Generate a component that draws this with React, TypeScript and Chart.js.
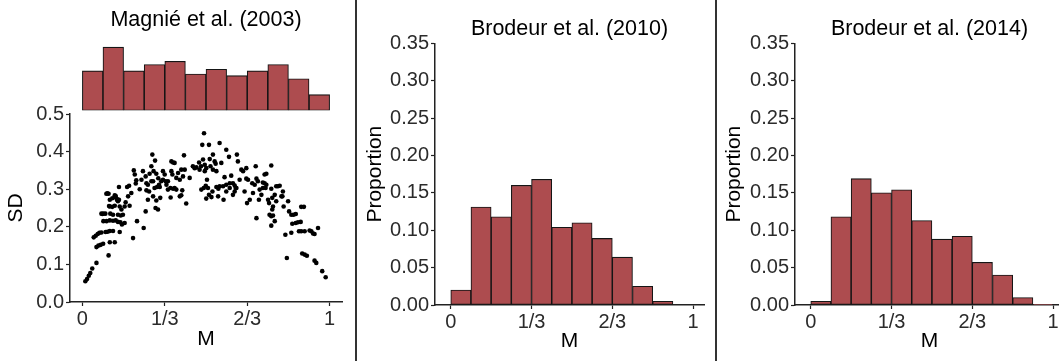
import React, { useEffect, useRef } from "react";
import { Chart, registerables } from "chart.js";

Chart.register(...registerables);

// ---------- DATA ----------
const xTickValues = [0, 1 / 3, 2 / 3, 1];
const xTickLabels = ["0", "1/3", "2/3", "1"];
const sdTickValues = [0, 0.1, 0.2, 0.3, 0.4, 0.5];
const propTickValues = [0, 0.05, 0.1, 0.15, 0.2, 0.25, 0.3, 0.35];

const binCenters = [0.0417, 0.125, 0.2083, 0.2917, 0.375, 0.4583, 0.5417, 0.625, 0.7083, 0.7917, 0.875, 0.9583];

const magnieCounts = [25, 40, 25, 29, 31, 23, 26, 22, 25, 29, 20, 10];
const brodeur2010 = [0.02, 0.131, 0.118, 0.16, 0.168, 0.104, 0.11, 0.089, 0.064, 0.025, 0.005, 0];
const brodeur2014 = [0.005, 0.118, 0.169, 0.15, 0.154, 0.113, 0.088, 0.092, 0.057, 0.04, 0.01, 0.001];

const magnieM = [
  0.012, 0.019, 0.026, 0.032, 0.04, 0.057, 0.106, 0.046, 0.054, 0.062, 0.069, 0.077, 0.094, 0.102, 0.111, 0.124, 0.151,
  0.057, 0.065, 0.074, 0.084, 0.111, 0.131, 0.077, 0.085, 0.093, 0.113, 0.124, 0.144, 0.155, 0.164, 0.111, 0.124, 0.135,
  0.144, 0.154, 0.171, 0.16, 0.097, 0.106, 0.131, 0.135, 0.14, 0.148, 0.111, 0.121, 0.111, 0.121, 0.131, 0.144, 0.151,
  0.158, 0.171, 0.175, 0.181, 0.189, 0.198, 0.205, 0.208, 0.212, 0.218, 0.216, 0.221, 0.248, 0.185, 0.191, 0.245, 0.256,
  0.259, 0.259, 0.27, 0.265, 0.256, 0.265, 0.272, 0.232, 0.239, 0.279, 0.283, 0.279, 0.288, 0.299, 0.307, 0.319, 0.286,
  0.292, 0.302, 0.313, 0.286, 0.299, 0.296, 0.306, 0.294, 0.326, 0.333, 0.337, 0.34, 0.315, 0.326, 0.31, 0.346, 0.36,
  0.367, 0.373, 0.36, 0.364, 0.356, 0.367, 0.373, 0.38, 0.387, 0.394, 0.4, 0.394, 0.4, 0.404, 0.357, 0.38, 0.346, 0.411,
  0.42, 0.434, 0.447, 0.454, 0.461, 0.472, 0.474, 0.48, 0.414, 0.407, 0.492, 0.485, 0.512, 0.488, 0.495, 0.501, 0.495,
  0.504, 0.499, 0.481, 0.491, 0.501, 0.512, 0.522, 0.528, 0.535, 0.539, 0.528, 0.542, 0.542, 0.55, 0.526, 0.549, 0.515,
  0.518, 0.508, 0.555, 0.562, 0.582, 0.593, 0.569, 0.582, 0.596, 0.575, 0.602, 0.609, 0.616, 0.623, 0.582, 0.609, 0.555,
  0.571, 0.596, 0.625, 0.629, 0.643, 0.616, 0.62, 0.65, 0.663, 0.663, 0.67, 0.677, 0.666, 0.636, 0.656, 0.701, 0.687,
  0.697, 0.704, 0.71, 0.714, 0.704, 0.73, 0.737, 0.744, 0.73, 0.741, 0.737, 0.744, 0.724, 0.69, 0.717, 0.764, 0.751,
  0.755, 0.764, 0.768, 0.771, 0.768, 0.757, 0.764, 0.771, 0.764, 0.778, 0.784, 0.778, 0.791, 0.798, 0.784, 0.805, 0.811,
  0.809, 0.814, 0.832, 0.836, 0.821, 0.827, 0.845, 0.863, 0.849, 0.863, 0.872, 0.845, 0.854, 0.885, 0.896, 0.885, 0.899,
  0.889, 0.899, 0.908, 0.919, 0.926, 0.933, 0.939, 0.939, 0.946, 0.953, 0.876, 0.97, 0.984, 0.148, 0.101, 0.135, 0.142,
  0.108, 0.081, 0.085, 0.098, 0.883,
];
const magnieSD = [
  0.055, 0.061, 0.07, 0.077, 0.089, 0.104, 0.124, 0.172, 0.176, 0.181, 0.184, 0.185, 0.186, 0.187, 0.189, 0.189, 0.186,
  0.146, 0.15, 0.152, 0.155, 0.159, 0.159, 0.235, 0.235, 0.235, 0.235, 0.232, 0.232, 0.23, 0.232, 0.217, 0.216, 0.217,
  0.213, 0.212, 0.21, 0.206, 0.288, 0.288, 0.284, 0.278, 0.272, 0.272, 0.272, 0.276, 0.254, 0.253, 0.256, 0.268, 0.254,
  0.246, 0.254, 0.265, 0.306, 0.309, 0.29, 0.17, 0.35, 0.339, 0.324, 0.315, 0.215, 0.197, 0.281, 0.256, 0.348, 0.334,
  0.316, 0.297, 0.294, 0.272, 0.241, 0.312, 0.341, 0.3, 0.325, 0.321, 0.392, 0.361, 0.348, 0.341, 0.329, 0.321, 0.321,
  0.303, 0.306, 0.306, 0.281, 0.27, 0.25, 0.246, 0.376, 0.348, 0.339, 0.321, 0.312, 0.277, 0.325, 0.312, 0.299, 0.374,
  0.371, 0.37, 0.348, 0.339, 0.303, 0.301, 0.303, 0.299, 0.343, 0.325, 0.352, 0.281, 0.284, 0.297, 0.278, 0.33, 0.321, 0.39,
  0.262, 0.33, 0.361, 0.356, 0.358, 0.371, 0.352, 0.361, 0.352, 0.334, 0.449, 0.418, 0.418, 0.379, 0.365, 0.356, 0.348,
  0.325, 0.309, 0.299, 0.303, 0.275, 0.285, 0.279, 0.392, 0.374, 0.368, 0.352, 0.348, 0.306, 0.301, 0.294, 0.281, 0.38,
  0.361, 0.303, 0.423, 0.37, 0.405, 0.386, 0.308, 0.312, 0.316, 0.332, 0.336, 0.316, 0.31, 0.303, 0.294, 0.285, 0.308,
  0.272, 0.303, 0.392, 0.374, 0.352, 0.294, 0.303, 0.348, 0.356, 0.328, 0.325, 0.272, 0.263, 0.325, 0.294, 0.361, 0.316,
  0.312, 0.328, 0.321, 0.272, 0.223, 0.318, 0.316, 0.312, 0.303, 0.303, 0.339, 0.341, 0.285, 0.29, 0.299, 0.363, 0.272,
  0.263, 0.301, 0.277, 0.254, 0.246, 0.232, 0.228, 0.23, 0.203, 0.285, 0.308, 0.215, 0.308, 0.309, 0.268, 0.281, 0.294,
  0.281, 0.254, 0.268, 0.241, 0.179, 0.117, 0.232, 0.234, 0.208, 0.21, 0.212, 0.184, 0.232, 0.253, 0.253, 0.188, 0.188,
  0.129, 0.126, 0.123, 0.19, 0.188, 0.182, 0.181, 0.11, 0.104, 0.197, 0.188, 0.082, 0.066, 0.306, 0.289, 0.282, 0.273,
  0.255, 0.234, 0.215, 0.215, 0.213,
];

// ---------- STYLE ----------
const FONT = "'Liberation Sans', Arial, Helvetica, sans-serif";
const BAR_FILL = "#AD4C4F";
const BAR_EDGE = "#151515";
const AXIS = "#222222";
const TICK_TEXT = "#2b2b2b";
const TICK_SIZE = 20;
const AXIS_TITLE_SIZE = 21;
const PANEL_TITLE_SIZE = 21.5;

function ChartCanvas({ left, top, width, height, build }: any) {
  const ref = useRef<HTMLCanvasElement | null>(null);
  useEffect(() => {
    if (!ref.current) return;
    const chart = new Chart(ref.current, build());
    return () => chart.destroy();
  }, []);
  return (
    <canvas
      ref={ref}
      width={width}
      height={height}
      style={{ position: "absolute", left, top, width, height }}
    />
  );
}

function xAxis(min: number, max: number, fitHeight: number, titlePadBottom: number) {
  return {
    type: "linear",
    min,
    max,
    offset: false,
    afterBuildTicks: (s: any) => {
      s.ticks = xTickValues.map((v) => ({ value: v }));
    },
    afterFit: (s: any) => {
      s.height = fitHeight;
    },
    ticks: {
      autoSkip: false,
      maxRotation: 0,
      padding: 1,
      color: TICK_TEXT,
      font: { family: FONT, size: TICK_SIZE },
      callback: (_v: any, i: number) => xTickLabels[i],
    },
    grid: {
      display: true,
      offset: false,
      drawOnChartArea: false,
      drawTicks: true,
      tickLength: 4,
      tickColor: AXIS,
      tickWidth: 1.2,
    },
    border: { display: true, color: AXIS, width: 1.5 },
    title: {
      display: true,
      text: "M",
      color: "#000",
      font: { family: FONT, size: AXIS_TITLE_SIZE },
      padding: { top: 0, bottom: titlePadBottom },
    },
  };
}

function yAxis(min: number, max: number, tickVals: number[], digits: number, fitWidth: number, title: string, titlePadTop: number) {
  return {
    type: "linear",
    min,
    max,
    afterBuildTicks: (s: any) => {
      s.ticks = tickVals.map((v) => ({ value: v }));
    },
    afterFit: (s: any) => {
      s.width = fitWidth;
    },
    ticks: {
      autoSkip: false,
      padding: 2,
      color: TICK_TEXT,
      font: { family: FONT, size: TICK_SIZE },
      callback: (v: any) => Number(v).toFixed(digits),
    },
    grid: {
      display: true,
      drawOnChartArea: false,
      drawTicks: true,
      tickLength: 4,
      tickColor: AXIS,
      tickWidth: 1.2,
    },
    border: { display: true, color: AXIS, width: 1.5 },
    title: {
      display: true,
      text: title,
      color: "#000",
      font: { family: FONT, size: AXIS_TITLE_SIZE },
      padding: { top: titlePadTop, bottom: 0 },
    },
  };
}

function histDataset(values: number[]) {
  return {
    type: "bar",
    data: binCenters.map((c, i) => ({ x: c, y: values[i] })),
    backgroundColor: BAR_FILL,
    borderColor: BAR_EDGE,
    borderWidth: 1.1,
    borderSkipped: false,
    barPercentage: 1,
    categoryPercentage: 1,
  };
}

const commonPlugins = {
  legend: { display: false },
  tooltip: { enabled: false },
};

// fullSize: false -> title is centred over the plot panel, as in the original
function panelTitle(text: string, padTop: number, padBottom: number) {
  return {
    display: true,
    fullSize: false,
    text,
    color: "#000",
    font: { family: FONT, size: PANEL_TITLE_SIZE, weight: "normal" },
    padding: { top: padTop, bottom: padBottom },
  };
}

function scatterConfig(): any {
  return {
    type: "scatter",
    data: {
      datasets: [
        {
          data: magnieM.map((m, i) => ({ x: m, y: magnieSD[i] })),
          backgroundColor: "#000",
          borderWidth: 0,
          pointRadius: 2.3,
        },
      ],
    },
    options: {
      responsive: false,
      animation: false,
      layout: { padding: { top: 114, right: 14, left: 0, bottom: 0 } },
      plugins: commonPlugins,
      scales: {
        x: xAxis(-0.05, 1.05, 59, 9),
        y: yAxis(0, 0.5, sdTickValues, 1, 70, "SD", 3.4),
      },
    },
  };
}

function marginalConfig(): any {
  return {
    type: "bar",
    data: { datasets: [histDataset(magnieCounts)] },
    options: {
      responsive: false,
      animation: false,
      layout: { padding: { top: 0, right: 14, left: 70, bottom: 1.5 } },
      plugins: { ...commonPlugins, title: panelTitle("Magnié et al. (2003)", 7.6, 10.6) },
      scales: {
        x: {
          type: "linear",
          min: -0.05,
          max: 1.05,
          offset: false,
          display: false,
          grid: { offset: false },
          afterBuildTicks: (s: any) => {
            s.ticks = xTickValues.map((v) => ({ value: v }));
          },
        },
        y: { type: "linear", min: 0, max: 42, display: false },
      },
    },
  };
}

function histConfig(title: string, values: number[], yTitlePad: number): any {
  return {
    type: "bar",
    data: { datasets: [histDataset(values)] },
    options: {
      responsive: false,
      animation: false,
      layout: { padding: { top: 0, right: 11, left: 0, bottom: 0 } },
      plugins: { ...commonPlugins, title: panelTitle(title, 16.1, 1.4) },
      scales: {
        x: xAxis(-0.065, 1.045, 56, 7.5),
        y: yAxis(0, 0.35, propTickValues, 2, 78, "Proportion", yTitlePad),
      },
    },
  };
}

export default function App() {
  return (
    <div
      style={{
        position: "fixed",
        left: 0,
        top: 0,
        width: 1059,
        height: 361,
        overflow: "hidden",
        background: "#fff",
      }}
    >
      <ChartCanvas left={0} top={0} width={356} height={361} build={scatterConfig} />
      <ChartCanvas left={0} top={0} width={356} height={112} build={marginalConfig} />
      <ChartCanvas left={357} top={0} width={358} height={361} build={() => histConfig("Brodeur et al. (2010)", brodeur2010, 5.4)} />
      <ChartCanvas left={717} top={0} width={358} height={361} build={() => histConfig("Brodeur et al. (2014)", brodeur2014, 4.4)} />
      <div style={{ position: "absolute", left: 355, top: 0, width: 2, height: 361, background: "#333" }} />
      <div style={{ position: "absolute", left: 715, top: 0, width: 2, height: 361, background: "#333" }} />
    </div>
  );
}
